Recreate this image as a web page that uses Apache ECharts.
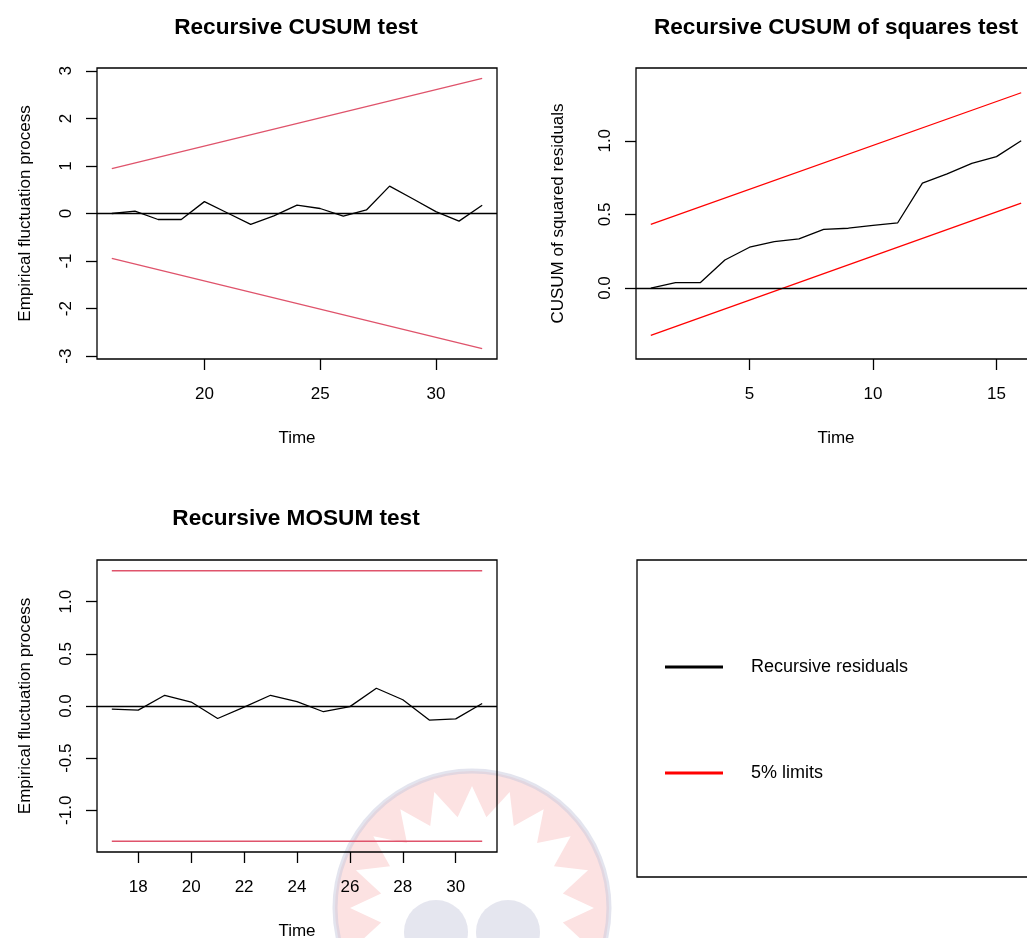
<!DOCTYPE html>
<html>
<head>
<meta charset="utf-8">
<script src="https://cdn.jsdelivr.net/npm/echarts@6/dist/echarts.min.js"></script>
<style>
  html, body { margin: 0; padding: 0; background: #fff; }
  #chart { width: 1027px; height: 938px; }
</style>
</head>
<body>
<div id="chart"></div>
<script>
// Recursive CUSUM test (top left)
const cusumTime = [16, 17, 18, 19, 20, 21, 22, 23, 24, 25, 26, 27, 28, 29, 30, 31, 32];
const cusumValues = [0, 0.05, -0.126, -0.126, 0.25, 0.01, -0.23, -0.05, 0.175, 0.105, -0.056, 0.075, 0.575, 0.31, 0.04, -0.16, 0.175];
const cusumLimitTime = [16, 32];
const cusumUpper = [0.945, 2.84];
const cusumLower = [-0.945, -2.84];
const cusumXTicks = [20, 25, 30];
const cusumYTicks = [-3, -2, -1, 0, 1, 2, 3];

// Recursive CUSUM of squares test (top right)
const sqTime = [1, 2, 3, 4, 5, 6, 7, 8, 9, 10, 11, 12, 13, 14, 15, 16];
const sqValues = [0, 0.036, 0.036, 0.19, 0.277, 0.315, 0.333, 0.398, 0.406, 0.425, 0.443, 0.712, 0.775, 0.847, 0.892, 1.0];
const sqLimitTime = [1, 16];
const sqUpper = [0.432, 1.326];
const sqLower = [-0.321, 0.577];
const sqXTicks = [5, 10, 15];
const sqYTicks = [0, 0.5, 1];

// Recursive MOSUM test (bottom left)
const mosumTime = [17, 18, 19, 20, 21, 22, 23, 24, 25, 26, 27, 28, 29, 30, 31];
const mosumValues = [-0.03, -0.04, 0.103, 0.038, -0.12, -0.01, 0.103, 0.042, -0.055, -0.006, 0.17, 0.06, -0.135, -0.123, 0.024];
const mosumLimitTime = [17, 31];
const mosumUpper = [1.297, 1.297];
const mosumLower = [-1.297, -1.297];
const mosumXTicks = [18, 20, 22, 24, 26, 28, 30];
const mosumYTicks = [-1, -0.5, 0, 0.5, 1];

const legendNames = ['Recursive residuals', '5% limits'];

const font = "'Liberation Sans', Arial, sans-serif";
const ink = '#000';
const pink = '#DF536B';
const red = '#FF0000';

const zip = (xs, ys) => xs.map((x, i) => [x, ys[i]]);

function xAxisFor(grid, min, max, ticks) {
    return {
        type: 'value', gridIndex: grid, min: min, max: max,
        name: 'Time', nameLocation: 'middle', nameGap: 71,
        nameTextStyle: { fontFamily: font, fontSize: 17, color: ink },
        axisLine: { show: false, onZero: false },
        splitLine: { show: false },
        axisTick: { show: true, length: 11, customValues: ticks, lineStyle: { color: ink, width: 1.3 } },
        axisLabel: { customValues: ticks, margin: 27, fontFamily: font, fontSize: 17, color: ink }
    };
}

function yAxisFor(grid, min, max, ticks, name, gap, decimals) {
    return {
        type: 'value', gridIndex: grid, min: min, max: max,
        name: name, nameLocation: 'middle', nameGap: gap, nameRotate: 90,
        nameTextStyle: { fontFamily: font, fontSize: 17, color: ink },
        axisLine: { show: false, onZero: false },
        splitLine: { show: false },
        axisTick: { show: true, length: 11, customValues: ticks, lineStyle: { color: ink, width: 1.3 } },
        axisLabel: {
            customValues: ticks, rotate: 90, margin: 22,
            fontFamily: font, fontSize: 17, color: ink,
            formatter: (v) => v.toFixed(decimals)
        }
    };
}

function lineSeries(name, idx, data, color, zero) {
    const s = {
        name: name, type: 'line', xAxisIndex: idx, yAxisIndex: idx,
        data: data, symbol: 'none', showSymbol: false, silent: true,
        lineStyle: { color: color, width: 1.3 },
        itemStyle: { color: color }
    };
    if (zero) {
        s.markLine = {
            silent: true, symbol: ['none', 'none'], label: { show: false },
            lineStyle: { color: ink, width: 1.3, type: 'solid' },
            data: [{ yAxis: 0 }]
        };
    }
    return s;
}

const gridBox = { show: true, borderColor: ink, borderWidth: 1.3, backgroundColor: 'transparent', outerBoundsMode: 'none' };

// faint watermark star (decoration)
const starPts = [];
for (let i = 0; i < 40; i++) {
    const r = i % 2 === 0 ? 122 : 92;
    const a = Math.PI * i / 20 - Math.PI / 2;
    starPts.push([r * Math.cos(a), r * Math.sin(a)]);
}

const titleStyle = { fontFamily: font, fontSize: 22.6, fontWeight: 'bold', color: ink };
const legendText = { fontFamily: font, fontSize: 18, color: ink, lineHeight: 20, padding: [8, 0, 0, 23] };

const option = {
    backgroundColor: '#fff',
    animation: false,
    title: [
        { text: 'Recursive CUSUM test', left: 296, top: 16, textAlign: 'center', padding: 0, textStyle: titleStyle },
        { text: 'Recursive CUSUM of squares test', left: 836, top: 16, textAlign: 'center', padding: 0, textStyle: titleStyle },
        { text: 'Recursive MOSUM test', left: 296, top: 507, textAlign: 'center', padding: 0, textStyle: titleStyle }
    ],
    grid: [
        Object.assign({ left: 97, top: 68, width: 400, height: 291 }, gridBox),
        Object.assign({ left: 636, top: 68, width: 400, height: 291 }, gridBox),
        Object.assign({ left: 97, top: 560, width: 400, height: 292 }, gridBox)
    ],
    xAxis: [
        xAxisFor(0, 15.36, 32.64, cusumXTicks),
        xAxisFor(1, 0.4, 16.6, sqXTicks),
        xAxisFor(2, 16.44, 31.56, mosumXTicks)
    ],
    yAxis: [
        yAxisFor(0, -3.06, 3.06, cusumYTicks, 'Empirical fluctuation process', 63, 0),
        yAxisFor(1, -0.482, 1.494, sqYTicks, 'CUSUM of squared residuals', 69, 1),
        yAxisFor(2, -1.4, 1.4, mosumYTicks, 'Empirical fluctuation process', 63, 1)
    ],
    legend: [
        {
            data: [{ name: legendNames[0], itemStyle: { color: ink } }],
            left: 665, top: 653, padding: 0, icon: 'rect', itemWidth: 58, itemHeight: 3,
            selectedMode: false, textStyle: legendText
        },
        {
            data: [{ name: legendNames[1], itemStyle: { color: red } }],
            left: 665, top: 759, padding: 0, icon: 'rect', itemWidth: 58, itemHeight: 3,
            selectedMode: false, textStyle: legendText
        }
    ],
    graphic: [
        {
            type: 'rect', z: 10,
            shape: { x: 637, y: 560, width: 400, height: 317 },
            style: { fill: 'none', stroke: ink, lineWidth: 1.3 }
        },
        {
            type: 'group', x: 472, y: 908, z: -5,
            children: [
                { type: 'circle', z: -5, shape: { cx: 0, cy: 0, r: 137 }, style: { fill: 'rgba(245,160,160,0.3)', stroke: 'rgba(200,202,222,0.5)', lineWidth: 5 } },
                { type: 'polygon', z: -5, shape: { points: starPts }, style: { fill: '#fff' } },
                { type: 'circle', z: -5, shape: { cx: -36, cy: 24, r: 32 }, style: { fill: 'rgba(190,192,215,0.4)' } },
                { type: 'circle', z: -5, shape: { cx: 36, cy: 24, r: 32 }, style: { fill: 'rgba(190,192,215,0.4)' } }
            ]
        }
    ],
    series: [
        // top right first so the red legend entry takes its colour
        lineSeries(legendNames[1], 1, zip(sqLimitTime, sqUpper), red, false),
        lineSeries(legendNames[1], 1, zip(sqLimitTime, sqLower), red, false),
        lineSeries(legendNames[0], 1, zip(sqTime, sqValues), ink, true),

        lineSeries(legendNames[1], 0, zip(cusumLimitTime, cusumUpper), pink, false),
        lineSeries(legendNames[1], 0, zip(cusumLimitTime, cusumLower), pink, false),
        lineSeries(legendNames[0], 0, zip(cusumTime, cusumValues), ink, true),

        lineSeries(legendNames[1], 2, zip(mosumLimitTime, mosumUpper), pink, false),
        lineSeries(legendNames[1], 2, zip(mosumLimitTime, mosumLower), pink, false),
        lineSeries(legendNames[0], 2, zip(mosumTime, mosumValues), ink, true)
    ]
};

const chart = echarts.init(document.getElementById('chart'), null, { renderer: 'canvas' });
chart.setOption(option);
</script>
</body>
</html>
